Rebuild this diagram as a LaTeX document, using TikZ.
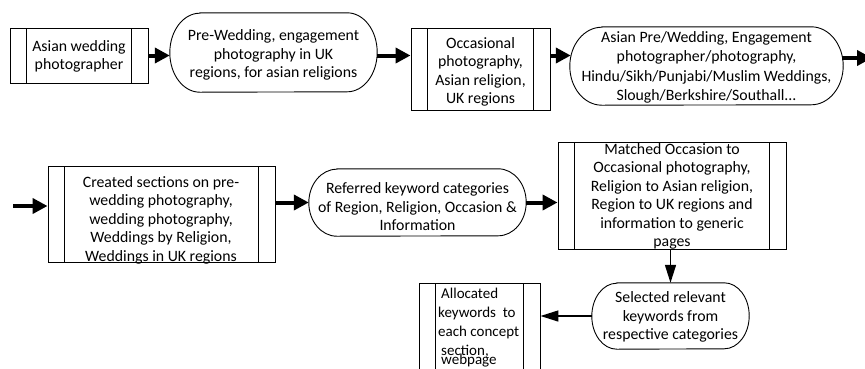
\documentclass[tikz,border=0pt]{standalone}
\usepackage{fontspec}
\setmainfont{Carlito}
\usetikzlibrary{arrows.meta}
\newcommand\drawoval[3]{\draw[line width=0.9pt] ([xshift=#2]#1.north west) -- ([xshift=-#2]#1.north east)
  arc[start angle=90,end angle=-90,x radius=#2,y radius=#3] -- ([xshift=#2]#1.south west)
  arc[start angle=270,end angle=90,x radius=#2,y radius=#3] -- cycle;}
\begin{document}
\begin{tikzpicture}[x=1pt,y=-1pt,
  txt/.style={font=\fontsize{15.8}{18.5}\selectfont, align=center, inner sep=0pt},
  procbox/.style={draw, line width=0.9pt, rectangle, inner sep=0pt,
    path picture={\draw[line width=0.9pt]
      ([xshift=16.5pt]path picture bounding box.north west) -- ([xshift=16.5pt]path picture bounding box.south west)
      ([xshift=-16.5pt]path picture bounding box.north east) -- ([xshift=-16.5pt]path picture bounding box.south east);}},
  ovalbox/.style={rectangle, inner sep=0pt},
  bigarrow/.style={-{Triangle[length=15pt,width=15pt]}, line width=4pt},
  thinarrow/.style={-{Triangle[length=18pt,width=11pt]}, line width=1.5pt}]
\useasboundingbox (0,0) rectangle (865,368);
\clip (0,0) rectangle (865,368);
% shapes
\node[procbox, minimum width=138pt, minimum height=55pt] (b1) at (79,55.5) {};
\node[ovalbox, minimum width=207pt, minimum height=79pt] (o2) at (273.5,52.5) {};
\drawoval{o2}{30pt}{39.5pt}
\node[procbox, minimum width=139pt, minimum height=82pt] (b3) at (480.5,69) {};
\node[ovalbox, minimum width=273pt, minimum height=78pt] (o4) at (706.5,66) {};
\drawoval{o4}{32pt}{39pt}
\node[procbox, minimum width=227pt, minimum height=96pt] (b5) at (161.5,214) {};
\node[ovalbox, minimum width=217pt, minimum height=67pt] (o6) at (417.5,202.5) {};
\drawoval{o6}{28pt}{33.5pt}
\node[procbox, minimum width=228pt, minimum height=107pt] (b7) at (672,195.5) {};
\node[ovalbox, minimum width=157pt, minimum height=66pt] (o8) at (670.5,316) {};
\drawoval{o8}{25pt}{33pt}
\node[procbox, minimum width=121pt, minimum height=102pt] (b9) at (479.5,334) {};
% texts
\node[txt] (t1) at (79,56.5) {Asian wedding\\photographer};
\node[txt] (t2) at (273.5,55) {Pre-Wedding, engagement\\photography in UK\\regions, for asian religions};
\node[txt] (t3) at (480.5,72) {Occasional\\photography,\\Asian religion,\\UK regions};
\node[txt, font=\fontsize{15.8}{19.3}\selectfont] (t4) at (706.5,67.5) {Asian Pre/Wedding, Engagement\\photographer/photography,\\Hindu/Sikh/Punjabi/Muslim Weddings,\\Slough/Berkshire/Southall...};
\node[txt] (t5) at (161,220) {Created sections on pre-\\wedding photography,\\wedding photography,\\Weddings by Religion,\\Weddings in UK regions};
\node[txt] (t6) at (417.5,207) {Referred keyword categories\\of Region, Religion, Occasion \&\\Information};
\node[txt] (t7) at (672,196.5) {Matched Occasion to\\Occasional photography,\\Religion to Asian religion,\\Region to UK regions and\\information to generic\\pages};
\node[txt] (t8) at (670.5,317) {Selected relevant\\keywords from\\respective categories};
\node[txt, align=left, anchor=north west, font=\fontsize{15}{19}\selectfont] (t9) at (438,288)
  {\hspace{3pt}Allocated\\keywords\ \ to\\each concept\\\hspace{3pt}section,\\[-10pt]\hspace{3pt}webpage};
% connectors
\coordinate (s5) at (13,206);
\coordinate (e4) at (872,58);
\draw[bigarrow] (b1.east) -- (b1.east -| o2.west);
\draw[bigarrow] (o2.east |- b1.east) -- (b3.west |- b1.east);
\draw[bigarrow] (b3.east |- b1.east) -- ([xshift=1pt]o4.west |- b1.east);
\draw[bigarrow] ([xshift=-1pt]o4.east |- e4) -- (e4);
\draw[bigarrow] (s5) -- (s5 -| b5.west);
\draw[bigarrow] (b5.east |- o6.west) -- (o6.west);
\draw[bigarrow] (o6.east) -- (o6.east -| b7.west);
\draw[thinarrow] (b7.south -| o8.north) -- (o8.north);
\draw[thinarrow] (o8.west) -- (o8.west -| b9.east);
\end{tikzpicture}
\end{document}
